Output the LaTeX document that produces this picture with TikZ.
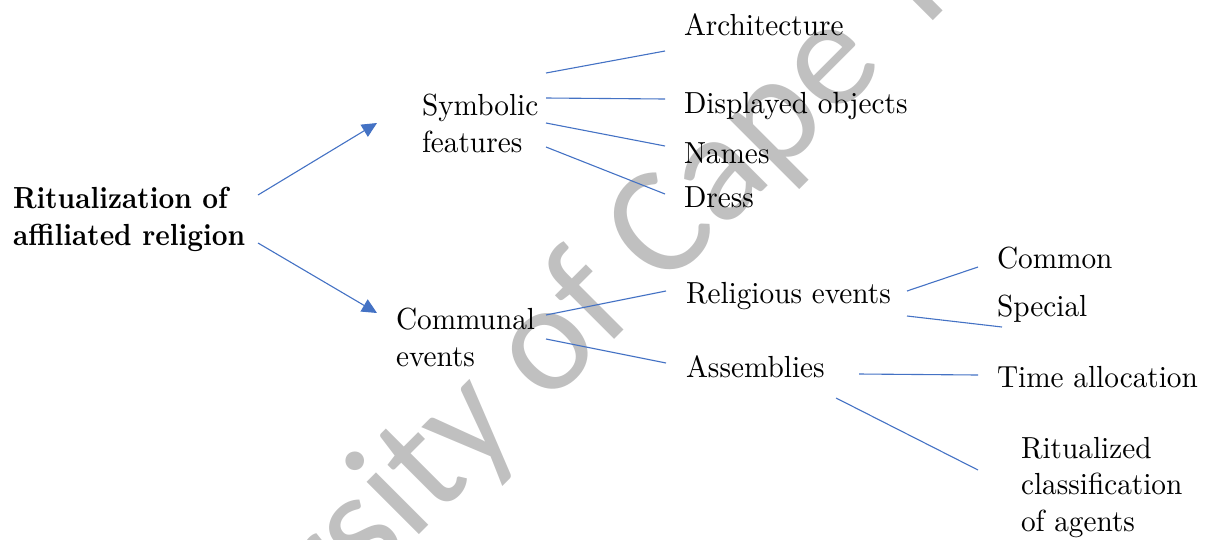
\documentclass[tikz,border=0pt]{standalone}
\usepackage{fontspec}
\newfontfamily\lmtext{lmroman10-regular.otf}[BoldFont=lmroman10-bold.otf, FakeStretch=0.96]
\newfontfamily\lmtitle{lmroman10-bold.otf}[FakeStretch=0.9]
\newfontfamily\wmfont{Carlito}
\usetikzlibrary{arrows.meta}
\definecolor{linkblue}{RGB}{68,114,196}
\definecolor{wmgray}{RGB}{192,192,192}
\newcommand{\mlines}[1]{\begin{tabular}[t]{@{}l@{}}#1\end{tabular}}
\begin{document}
\begin{tikzpicture}[x=1pt,y=-1pt,
  lbl/.style={anchor=base west, inner sep=0pt, outer sep=0pt, font=\lmtext\fontsize{30.5}{37.5}\selectfont},
  titlelbl/.style={lbl, font=\lmtitle\fontsize{30.5}{37.5}\selectfont},
  link/.style={draw=linkblue, line width=1.1pt},
  arrowlink/.style={link, -{Triangle[length=15pt,width=14pt]}},
  wmark/.style={anchor=base west, inner sep=0pt, rotate=45, text=wmgray, font=\wmfont\fontsize{155}{180}\selectfont}]
\useasboundingbox (0,0) rectangle (1207,539);
% watermark
\begin{scope}
\clip (0,0) rectangle (1207,539);
\node[wmark] (wm) at (76,878) {University of Cape Town};
\end{scope}
% nodes
\node[titlelbl] (title) at (13,208) {\mlines{Ritualization of\\affiliated religion}};
\node[lbl] (sym) at (422,115) {\mlines{Symbolic\\features}};
\node[lbl] (arch) at (684,35) {Architecture};
\node[lbl] (disp) at (684,113) {Displayed objects};
\node[lbl] (names) at (684,163) {Names};
\node[lbl] (dress) at (684,207) {Dress};
\node[lbl] (comm) at (396,329) {\mlines{Communal\\events}};
\node[lbl] (relig) at (686,303) {Religious events};
\node[lbl] (assem) at (686,377) {Assemblies};
\node[lbl] (common) at (997,268) {Common};
\node[lbl] (special) at (997,316) {Special};
\node[lbl] (time) at (997,387) {Time allocation};
\node[lbl, font=\lmtext\fontsize{30.5}{36.5}\selectfont] (ritual) at (1021,458) {\mlines{Ritualized\\classification\\of agents}};
% arrows from title
\draw[arrowlink] ([shift={(245,-13)}]title.base west) -- ([shift={(-45,8)}]sym.base west);
\draw[arrowlink] ([shift={(245,35)}]title.base west) -- ([shift={(-19,-16)}]comm.base west);
% symbolic features
\draw[link] ([shift={(124,-42)}]sym.base west) -- ([shift={(-19,16)}]arch.base west);
\draw[link] ([shift={(124,-17)}]sym.base west) -- ([shift={(-19,-14)}]disp.base west);
\draw[link] ([shift={(124,8)}]sym.base west) -- ([shift={(-19,-17)}]names.base west);
\draw[link] ([shift={(124,32)}]sym.base west) -- ([shift={(-19,-13)}]dress.base west);
% communal events
\draw[link] ([shift={(150,-14)}]comm.base west) -- ([shift={(-20,-12)}]relig.base west);
\draw[link] ([shift={(150,10)}]comm.base west) -- ([shift={(-20,-14)}]assem.base west);
% religious events
\draw[link] ([shift={(221,-12)}]relig.base west) -- ([shift={(-19,-1)}]common.base west);
\draw[link] ([shift={(221,13)}]relig.base west) -- ([shift={(5,11)}]special.base west);
% assemblies
\draw[link] ([shift={(173,-3)}]assem.base west) -- ([shift={(-19,-12)}]time.base west);
\draw[link] ([shift={(150,21)}]assem.base west) -- ([shift={(-43,12)}]ritual.base west);
\end{tikzpicture}
\end{document}
